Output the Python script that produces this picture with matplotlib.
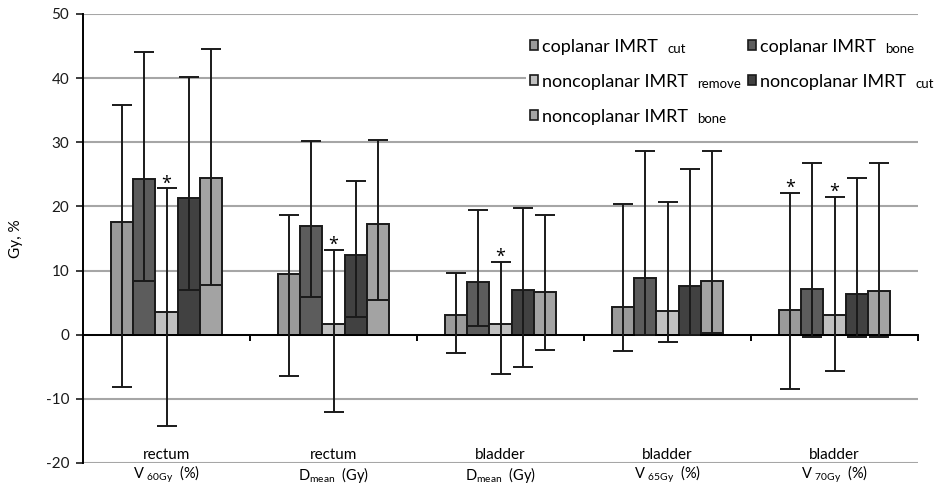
import matplotlib
matplotlib.use("Agg")
import matplotlib.pyplot as plt
from matplotlib.patches import Patch
import numpy as np

plt.rcParams['font.family'] = ['Lato', 'DejaVu Sans']
plt.rcParams['mathtext.fontset'] = 'custom'
plt.rcParams['mathtext.rm'] = 'Lato'
plt.rcParams['axes.unicode_minus'] = False

# Data
organs = ['rectum', 'rectum', 'bladder', 'bladder', 'bladder']
metrics = [r'V $_{\mathregular{60Gy}}$  (%)', r'D$_{\mathregular{mean}}$  (Gy)',
           r'D$_{\mathregular{mean}}$  (Gy)', r'V $_{\mathregular{65Gy}}$  (%)',
           r'V $_{\mathregular{70Gy}}$  (%)']

series_names = ['coplanar IMRT', 'coplanar IMRT', 'noncoplanar IMRT',
                'noncoplanar IMRT', 'noncoplanar IMRT']
series_subs = ['cut', 'bone', 'remove', 'cut', 'bone']
series_colors = ['#9a9a9a', '#5c5c5c', '#c0c0c0', '#414141', '#a3a3a3']

# means, one row per series, one column per category
means = [
    [17.6, 9.4, 3.0, 4.3, 3.9],
    [24.3, 16.9, 8.2, 8.8, 7.1],
    [3.5, 1.7, 1.6, 3.7, 3.0],
    [21.3, 12.5, 6.9, 7.6, 6.3],
    [24.5, 17.2, 6.7, 8.4, 6.8],
]
upper = [
    [35.8, 18.6, 9.6, 20.3, 22.1],
    [44.0, 30.2, 19.5, 28.6, 26.8],
    [22.8, 13.2, 11.4, 20.7, 21.5],
    [40.2, 24.0, 19.7, 25.9, 24.5],
    [44.6, 30.3, 18.7, 28.6, 26.8],
]
lower = [
    [-8.1, -6.5, -2.9, -2.6, -8.4],
    [8.4, 5.8, 1.4, 0.0, -0.4],
    [-14.2, -12.0, -6.2, -1.1, -5.7],
    [6.9, 2.8, -5.0, 0.0, -0.4],
    [7.7, 5.4, -2.4, 0.3, -0.4],
]
# (series index, category index) marked with an asterisk
significant = [(2, 0), (2, 1), (2, 2), (0, 4), (2, 4)]

fig = plt.figure(figsize=(9.34, 4.87), dpi=100)
ax = fig.add_axes([0.0889, 0.0493, 0.8940, 0.9220])

x = np.arange(len(organs))
width = 0.1337

for i in range(len(means)):
    m = np.array(means[i])
    err = [m - np.array(lower[i]), np.array(upper[i]) - m]
    pos = x + (i - 2) * width
    ax.bar(pos, m, width, color=series_colors[i], edgecolor='#1a1a1a',
           linewidth=1.4, zorder=2)
    ax.errorbar(pos, m, yerr=err, fmt='none', ecolor='#1a1a1a',
                elinewidth=1.4, capsize=7.5, capthick=1.4, zorder=3)

for i, j in significant:
    ax.annotate('*', (x[j] + (i - 2) * width, upper[i][j]),
                xytext=(0, -3), textcoords='offset points',
                ha='center', va='bottom', fontsize=13,
                family='Open Sans', zorder=4)

ax.set_xlim(-0.5, 4.5)
ax.set_ylim(-20, 50)
ax.set_yticks(np.arange(-20, 51, 10))
ax.yaxis.grid(True, color='#a6a6a6', linewidth=1.5, zorder=0)
ax.set_axisbelow(True)
ax.tick_params(axis='y', direction='out', length=5, width=1.2,
               labelsize=11, colors='#1a1a1a', pad=5)
ax.set_ylabel('Gy, %', fontsize=11, labelpad=16)

# category boundaries ticked on the zero line
ax.spines['bottom'].set_position(('data', 0))
ax.spines['bottom'].set_linewidth(1.4)
ax.spines['left'].set_linewidth(1.4)
ax.spines['top'].set_visible(False)
ax.spines['right'].set_visible(False)
ax.set_xticks(np.arange(0.5, 4.6, 1))
ax.set_xticklabels([])
ax.tick_params(axis='x', direction='out', length=4, width=1.4)

trans = ax.get_xaxis_transform()
for j in range(len(organs)):
    ax.text(x[j], 0.018, organs[j], transform=trans, ha='center',
            va='center', fontsize=11)
    ax.text(x[j], -0.026, metrics[j], transform=trans, ha='center',
            va='center', fontsize=10.5)

# legend: main names in the legend, small suffixes hung after each one
handles = [Patch(facecolor=c, edgecolor='#1a1a1a', linewidth=1.2)
           for c in series_colors]
order = [0, 2, 4, 1, 3]
leg = ax.legend([handles[k] for k in order], [series_names[k] for k in order],
                ncol=2, loc='upper left', bbox_to_anchor=(0.5305, 0.953),
                borderaxespad=0, fontsize=13, frameon=True, framealpha=1,
                edgecolor='none', handlelength=0.48, handleheight=0.48,
                handletextpad=0.22, columnspacing=3.3, labelspacing=1.05,
                borderpad=0.2)
leg.set_zorder(5)

for k, txt in zip(order, leg.get_texts()):
    ax.annotate(series_subs[k], xy=(1, 0), xycoords=txt,
                xytext=(6.5, 0), textcoords='offset points',
                ha='left', va='bottom', fontsize=9.5,
                bbox=dict(facecolor='white', edgecolor='none', pad=4.5),
                zorder=6)

fig.savefig('out.png', dpi=100)
